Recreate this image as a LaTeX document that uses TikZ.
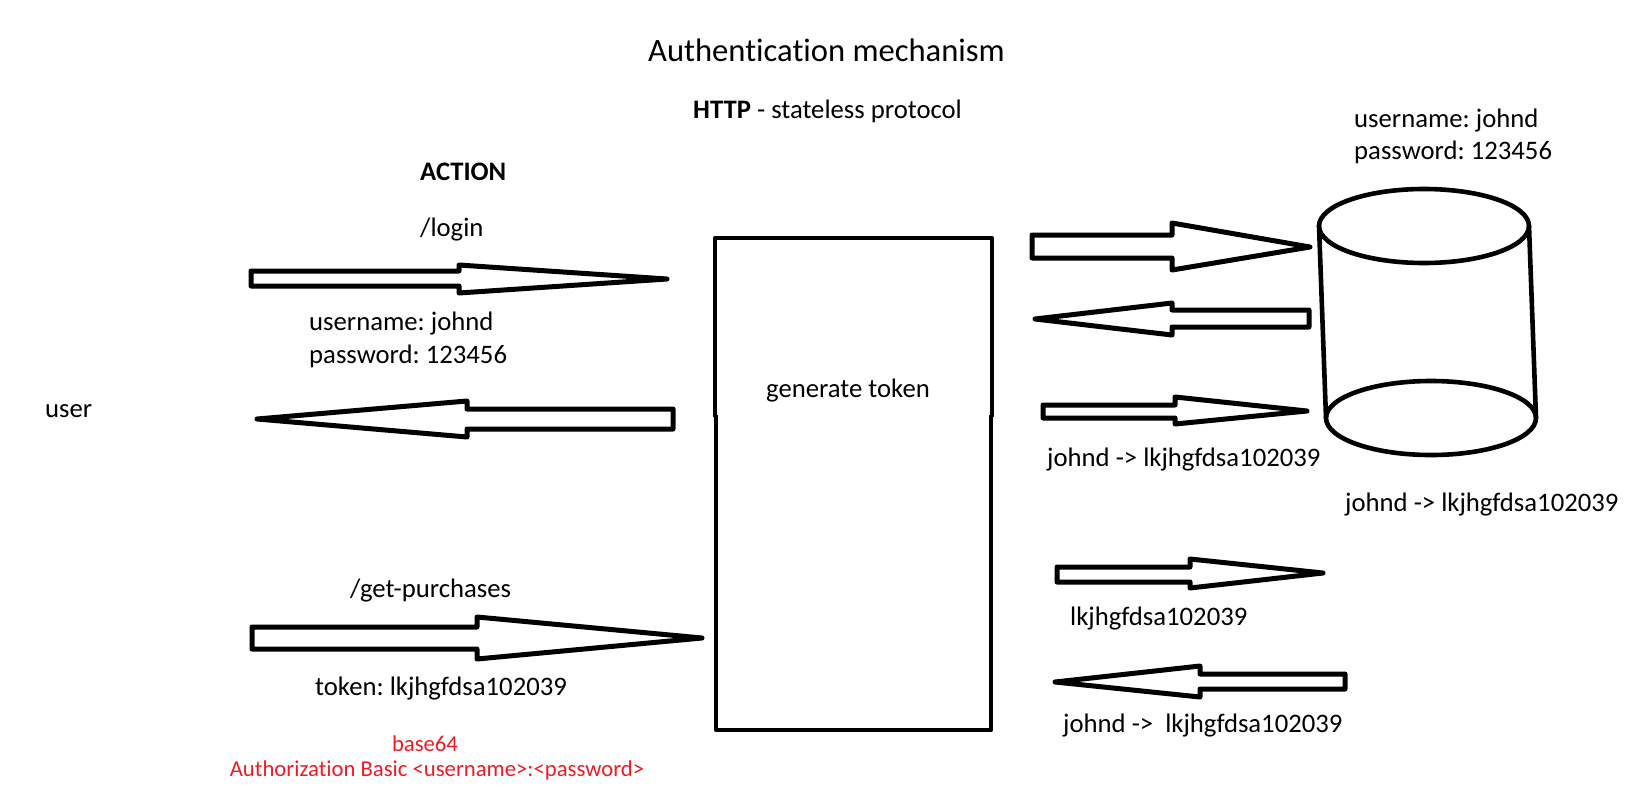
\documentclass[tikz,border=0pt]{standalone}
\usepackage{fontspec}
\setmainfont{Carlito}[Ligatures={NoCommon}]
\definecolor{paintred}{HTML}{ED1C24}
\tikzset{
  lbl/.style={inner sep=0pt, anchor=base west, font=\fontsize{26.7}{32}\selectfont},
  ttl/.style={inner sep=0pt, anchor=base west, font=\fontsize{32.6}{38}\selectfont},
  redlbl/.style={inner sep=0pt, anchor=base, text=paintred, font=\fontsize{22.7}{27}\selectfont},
  blockarrow/.style={draw=black, fill=white, line width=5pt, line join=round},
  outline/.style={draw=black, line width=4.3pt, line join=round},
  dbline/.style={draw=black, line width=4.6pt, line join=round}
}
\begin{document}
\frenchspacing
\begin{tikzpicture}[x=1pt,y=-1pt]
\fill[white] (0,0) rectangle (1632,806);
\useasboundingbox (0,0) rectangle (1632,806);

% titles
\node[ttl] (title) at (648,61) {Authentication mechanism};
\node[lbl] (http) at (693,118) {\textbf{HTTP} - stateless protocol};

% left side labels
\node[lbl] (action) at (420,180) {\textbf{ACTION}};
\node[lbl] (login) at (420,236) {/login};
\node[lbl] (user) at (45,417) {user};
\node[lbl] (uname) at (309,330) {username: johnd};
\node[lbl] (upass) at (309,363) {password: 123456};
\node[lbl] (getp) at (350,597) {/get-purchases};
\node[lbl] (tok) at (315,695) {token: lkjhgfdsa102039};
\node[redlbl] (b64) at (425,751) {base64};
\node[redlbl] (authb) at (437,776) {Authorization Basic <username>:<password>};

% server box
\draw[outline] (715,417) -- (715,238) -- (992,238) -- (992,417);
\draw[outline] (716,415) -- (716,730) -- (991,730) -- (991,415);
\node[lbl] (gen) at (766,397) {generate token};

% left arrows
\draw[blockarrow] (251,271) -- (459,271) -- (459,265) -- (667,279) -- (459,293) -- (459,286) -- (251,286) -- cycle;
\draw[blockarrow] (257,419) -- (467,401) -- (467,409) -- (673,409) -- (673,429) -- (467,429) -- (467,437) -- cycle;
\draw[blockarrow] (252,627) -- (477,627) -- (477,617) -- (702,638) -- (477,659) -- (477,649) -- (252,649) -- cycle;

% right arrows
\draw[blockarrow] (1032,235) -- (1172,235) -- (1172,223) -- (1310,247) -- (1172,270) -- (1172,258) -- (1032,258) -- cycle;
\draw[blockarrow] (1035,319) -- (1172,303) -- (1172,310) -- (1309,310) -- (1309,327) -- (1172,327) -- (1172,335) -- cycle;
\draw[blockarrow] (1043,405) -- (1175,405) -- (1175,397) -- (1307,411) -- (1175,424) -- (1175,418) -- (1043,418) -- cycle;
\draw[blockarrow] (1057,567) -- (1190,567) -- (1190,559) -- (1323,573) -- (1190,588) -- (1190,582) -- (1057,582) -- cycle;
\draw[blockarrow] (1055,682) -- (1200,666) -- (1200,674) -- (1345,674) -- (1345,689) -- (1200,689) -- (1200,697) -- cycle;

% right labels
\node[lbl] (map1) at (1047,466) {johnd -> lkjhgfdsa102039};
\node[lbl] (tok2) at (1070,625) {lkjhgfdsa102039};
\node[lbl] (map2) at (1063,732) {johnd ->\ \ lkjhgfdsa102039};

% database cylinder
\draw[dbline] (1424,226) ellipse [x radius=105, y radius=37];
\draw[dbline] (1431,418) ellipse [x radius=105, y radius=37];
\draw[dbline] (1319,226) -- (1326,418);
\draw[dbline] (1529,226) -- (1536,418);
\node[lbl] (dbuser) at (1354,127) {username: johnd};
\node[lbl] (dbpass) at (1354,159) {password: 123456};
\node[lbl] (dbmap) at (1345,511) {johnd -> lkjhgfdsa102039};
\end{tikzpicture}
\end{document}
